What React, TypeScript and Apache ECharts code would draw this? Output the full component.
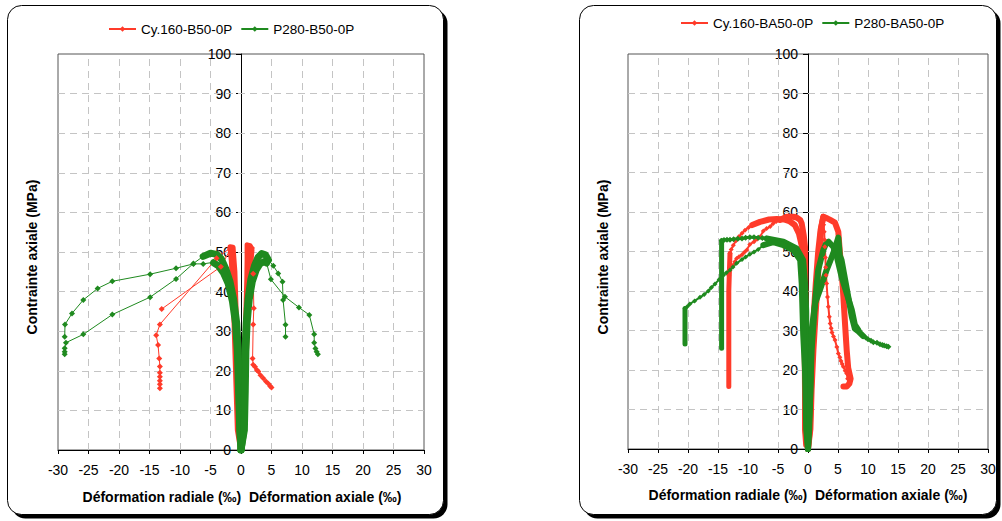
import React, { useEffect, useRef } from "react";
import * as echarts from "echarts";

type P = [number, number];

// ---------- tick labels / axes ----------
const xTicks = [-30, -25, -20, -15, -10, -5, 0, 5, 10, 15, 20, 25, 30];
const yTicks = [0, 10, 20, 30, 40, 50, 60, 70, 80, 90, 100];
const yTitle = "Contrainte axiale (MPa)";
const xTitle = "Déformation radiale (‰)  Déformation axiale (‰)";

// ---------- LEFT chart : B50 ----------
const lNameCy = "Cy.160-B50-0P";
const lNameP = "P280-B50-0P";

const lCyRadialBand: P[] = [[-0.1, 0.5], [-0.6, 5], [-0.8, 15], [-1.0, 25], [-1.2, 35], [-1.4, 43], [-1.6, 48], [-1.8, 51.3], [-1.3, 51.2], [-1.0, 45], [-0.8, 35], [-0.6, 25], [-0.5, 15], [-0.4, 5]];
const lCyAxialBand: P[] = [[0.1, 0.5], [0.35, 5], [0.5, 15], [0.65, 25], [0.8, 35], [0.95, 43], [1.0, 48], [1.0, 51.8], [1.5, 51.6], [1.8, 50.5], [1.5, 45], [1.2, 38], [1.0, 30], [0.8, 20], [0.6, 10], [0.45, 5]];
const lCyRadialTailA: P[] = [[-1.8, 50.5], [-3.3, 46.3], [-13.0, 35.6]];
const lCyRadialTailB: P[] = [[-1.8, 51], [-4.0, 48.4], [-13.3, 31.7], [-13.9, 29.0], [-13.6, 26.5], [-13.4, 23.1], [-13.3, 21.1], [-13.3, 19.5], [-13.3, 18.5], [-13.3, 17.5], [-13.3, 16.6], [-13.3, 15.6]];
const lCyAxialTail: P[] = [[1.8, 51], [2.0, 44.5], [2.1, 35.8], [2.0, 31.7], [1.9, 23.1], [2.0, 21.5], [2.3, 21.0], [2.6, 20.2], [2.85, 19.8], [3.2, 18.9], [3.65, 18.1], [4.1, 17.3], [4.5, 16.7], [4.8, 16.1], [5.0, 15.8]];

const lPDenseRad1: P[] = [[0, 0], [-0.15, 5], [-0.3, 15], [-0.45, 25], [-0.7, 32], [-1.2, 38], [-1.8, 42.5], [-2.5, 45.8], [-3.2, 48.2], [-4.0, 49.4], [-5.0, 49.7], [-6.2, 48.9]];
const lPTailRad1: P[] = [[-6.2, 48.9], [-7.8, 47.1], [-10.65, 43.2], [-14.9, 38.6], [-21.1, 34.2], [-25.85, 29.2], [-28.7, 27.1], [-28.9, 25.7], [-28.9, 24.8], [-28.9, 24.2]];
const lPDenseRad2: P[] = [[0, 0], [-0.2, 5], [-0.4, 15], [-0.6, 25], [-0.9, 32], [-1.4, 37.5], [-2.1, 42], [-2.9, 44.8], [-3.7, 46.5], [-4.5, 47.3]];
const lPTailRad2: P[] = [[-4.5, 47.4], [-6.2, 47.0], [-7.8, 47.0], [-10.65, 45.9], [-14.9, 44.4], [-21.1, 42.6], [-23.5, 40.8], [-25.85, 37.9], [-27.7, 34.5], [-28.85, 31.7], [-28.9, 28.6]];
const lPDenseAx1: P[] = [[0, 0], [0.45, 5], [0.55, 15], [0.65, 25], [0.85, 32], [1.15, 38], [1.6, 43], [2.2, 46.5], [2.8, 48.7], [3.4, 49.6], [4.0, 49.3], [4.5, 48.0]];
const lPTailAx1: P[] = [[4.5, 48.0], [5.3, 46.5], [6.1, 44.6], [6.8, 42.5], [6.9, 37.9], [7.3, 31.6], [7.3, 28.6]];
const lPDenseAx2: P[] = [[0, 0], [0.55, 5], [0.7, 15], [0.8, 25], [1.0, 32], [1.35, 38], [1.85, 42.5], [2.5, 45.5], [3.1, 47.0], [3.8, 47.6], [4.2, 47.2]];
const lPTailAx2: P[] = [[4.2, 47.2], [4.9, 43.1], [7.2, 38.7], [9.5, 36], [11.2, 34.1], [12.0, 29.2], [12.0, 27.1], [12.2, 25.6], [12.4, 24.8], [12.6, 24.2]];

// ---------- RIGHT chart : BA50 ----------
const rNameCy = "Cy.160-BA50-0P";
const rNameP = "P280-BA50-0P";

const rCyRadDense1: P[] = [[-0.3, 1], [-0.5, 5], [-0.5, 15], [-0.55, 25], [-0.6, 35], [-0.7, 43], [-0.8, 48], [-1.05, 51.5], [-1.5, 54.5], [-2.2, 56.7], [-3.0, 57.6], [-4.0, 58.1], [-5.2, 58.2], [-6.5, 58.1], [-8.0, 57.5], [-9.3, 56.7]];
const rCyRadTail1: P[] = [[-9.3, 56.7], [-9.9, 56.1], [-10.5, 55.4], [-11.0, 54.6], [-11.5, 53.8], [-12.0, 52.7], [-12.45, 51.6], [-12.8, 50.5], [-13.0, 49.5]];
const rCyRadDense2: P[] = [[-0.2, 1], [-0.4, 5], [-0.4, 15], [-0.4, 25], [-0.4, 35], [-0.45, 45], [-0.5, 51.2], [-0.7, 54], [-1.05, 57.1], [-1.3, 58.0], [-1.9, 58.6], [-2.45, 58.8], [-3.55, 58.8], [-4.1, 58.4], [-4.7, 58.0]];
const rCyRadTail2: P[] = [[-4.7, 58.0], [-5.3, 57.6], [-5.8, 57.1], [-6.3, 56.3], [-6.9, 55.8], [-7.45, 55.2], [-8.0, 53.7], [-8.5, 53.1], [-9.0, 52.5], [-9.7, 51.8], [-10.2, 50.4], [-10.6, 49.8], [-11.0, 49.2], [-11.5, 48.7], [-11.9, 48.2], [-12.2, 47.4], [-12.6, 46.4], [-13.0, 45.3], [-13.2, 44]];
const rCyRadColumn: P[] = [[-13.0, 49.5], [-13.1, 45], [-13.2, 40], [-13.2, 30], [-13.2, 20], [-13.2, 15.8]];
const rCyAxDense1: P[] = [[0, 0], [0.3, 5], [0.5, 15], [0.7, 25], [1.0, 35], [1.3, 42], [1.7, 50], [2.1, 55.5], [2.55, 58.8], [3.2, 58.4], [3.7, 58.0], [4.5, 57.3], [5.05, 55], [5.3, 50], [5.6, 45], [5.9, 38.5], [6.2, 31], [6.45, 25], [6.7, 20.5], [7.1, 17.8], [6.9, 16.6], [6.45, 15.8], [5.9, 15.8]];
const rCyAxDense2: P[] = [[0, 0], [0.4, 5], [0.6, 15], [0.9, 25], [1.3, 35], [1.6, 42], [1.9, 50], [2.2, 56], [2.55, 58.8]];
const rCyAxTail: P[] = [[2.55, 58.5], [2.6, 56.8], [2.7, 55], [2.75, 53], [2.8, 51.2], [2.9, 48.5], [2.95, 46], [3.0, 44], [3.1, 41.9], [3.25, 38.5], [3.4, 36], [3.55, 33.5], [3.7, 31.8], [3.85, 30.6], [4.0, 29.5], [4.25, 28.5], [4.5, 27.6], [4.8, 25.8], [5.05, 24.2], [5.3, 23.2], [5.5, 22.3], [5.7, 21.5], [5.9, 20.8], [6.2, 19.8], [6.45, 19.1], [6.6, 17.8]];

const rPRadDense1: P[] = [[0, 0], [-0.15, 5], [-0.2, 15], [-0.25, 25], [-0.3, 35], [-0.5, 42], [-0.8, 47.8], [-1.9, 50.8], [-4.1, 52.5], [-6.9, 53.3]];
const rPRadTail1: P[] = [[-6.9, 53.3], [-7.6, 53.4], [-8.3, 53.5], [-9.0, 53.6], [-9.7, 53.6], [-10.4, 53.5], [-11.0, 53.3], [-11.7, 53.2], [-12.4, 53.1], [-13.0, 53.0], [-13.5, 53.0], [-14.0, 52.9], [-14.4, 52.7]];
const rPRadColumn1: P[] = [[-14.4, 52.7], [-14.4, 45], [-14.4, 35], [-14.4, 25.5]];
const rPRadDense2: P[] = [[0, 0], [-0.3, 5], [-0.5, 20], [-0.8, 29], [-1.05, 41.9], [-1.3, 47.8], [-2.45, 50.4], [-4.1, 51.6], [-5.8, 52.4], [-7.45, 51.6]];
const rPRadTail2: P[] = [[-7.45, 51.6], [-8.3, 50.5], [-9.0, 49.9], [-9.7, 49.3], [-10.4, 48.6], [-11.0, 48.0], [-11.9, 47.0], [-12.5, 46.1], [-13.0, 45.3], [-13.6, 44.6], [-14.1, 44.0], [-14.8, 42.9], [-15.5, 41.8], [-16.1, 40.9], [-16.6, 40.0], [-17.3, 39.1], [-18.0, 38.4], [-18.9, 37.5], [-19.7, 36.7], [-20.1, 36.1], [-20.5, 35.6]];
const rPRadColumn2: P[] = [[-20.5, 35.6], [-20.5, 30], [-20.5, 26.6]];
const rPAxDense1: P[] = [[0, 0], [0.1, 5], [0.33, 12], [0.6, 25], [1.2, 37.7], [1.7, 45.3], [2.55, 50.4], [3.1, 52.3], [3.4, 52.5], [4.2, 51.2], [4.8, 48.7], [5.6, 43.6], [6.45, 39.4], [7.3, 35.2], [7.8, 31.5], [8.4, 30.1]];
const rPAxDense2: P[] = [[0, 0], [0.2, 5], [0.4, 15], [0.6, 30], [1.2, 37], [2.0, 40.3], [3.1, 45.3], [4.2, 49.5], [5.05, 53.5], [5.3, 49], [5.6, 47.8], [6.2, 42.8], [6.7, 38.6], [7.3, 33.5], [7.8, 30.5], [8.4, 29.8], [9.2, 28.6]];
const rPAxTail: P[] = [[9.2, 28.6], [9.6, 28.2], [10.0, 27.8], [10.5, 27.4], [10.9, 27.0], [11.5, 26.9], [12.0, 26.5], [12.4, 26.3], [12.7, 26.2], [13.1, 26.0], [13.4, 25.9]];

// ---------- styling ----------
const RED = "#FF3B2A";
const GREEN = "#1F8A1F";
const FONT = "Liberation Sans";

function sparse(name: string, color: string, data: P[], gi: number, w = 1, size = 6) {
  return {
    type: "line", name, data, xAxisIndex: gi, yAxisIndex: gi,
    symbol: "diamond", symbolSize: size, showSymbol: true,
    lineStyle: { width: w, color }, itemStyle: { color },
    emphasis: { disabled: true }, silent: true,
  };
}
function dense(name: string, color: string, data: P[], gi: number, w = 6) {
  return {
    type: "line", name, data, xAxisIndex: gi, yAxisIndex: gi,
    symbol: "none", showSymbol: false,
    lineStyle: { width: w, color, cap: "round", join: "round" }, itemStyle: { color },
    emphasis: { disabled: true }, silent: true,
  };
}
// dashed grid drawn from the tick arrays through the axes (interior ticks only)
function gridLines(gi: number) {
  const xs = xTicks.slice(1, -1).filter((v) => v !== 0).map((v) => ({ xAxis: v }));
  const ys = yTicks.slice(1, -1).map((v) => ({ yAxis: v }));
  return {
    type: "line", data: [], xAxisIndex: gi, yAxisIndex: gi, silent: true, z: 1,
    markLine: {
      silent: true, symbol: ["none", "none"], animation: false, z: 1,
      label: { show: false },
      emphasis: { disabled: true },
      lineStyle: { color: "#c4c4c4", type: [7, 5], width: 1 },
      data: [...xs, ...ys],
    },
  };
}

function xAxisFor(gi: number) {
  return {
    type: "value", gridIndex: gi, min: xTicks[0], max: xTicks[xTicks.length - 1], interval: 5,
    axisLine: { show: true, onZero: false, lineStyle: { color: "#000", width: 1 } },
    axisTick: { show: true, length: 4, lineStyle: { color: "#000" } },
    axisLabel: { color: "#000", fontSize: 14, fontFamily: FONT, margin: 13 },
    splitLine: { show: false },
  };
}
// y axis line + ticks sit on x = 0 (onZero); labels stay at the grid edge,
// so a negative margin of about half the grid width brings them next to the line
function yAxisFor(gi: number, halfWidth: number) {
  return {
    type: "value", gridIndex: gi, min: yTicks[0], max: yTicks[yTicks.length - 1], interval: 10,
    axisLine: { show: true, onZero: true, lineStyle: { color: "#000", width: 1 } },
    axisTick: { show: true, length: 5, lineStyle: { color: "#000" } },
    axisLabel: { color: "#000", fontSize: 14, fontFamily: FONT, margin: 10 - halfWidth },
    splitLine: { show: false },
  };
}

function frame(x: number, y: number, w: number, h: number) {
  return [
    { type: "rect", z: -100, silent: true, shape: { x: x + 4, y: y + 4, width: w, height: h, r: 14 }, style: { fill: "#000" } },
    { type: "rect", z: -99, silent: true, shape: { x, y, width: w, height: h, r: 14 }, style: { fill: "#fff", stroke: "#000", lineWidth: 1 } },
  ];
}
function titles(cx: number, cyX: number, yx: number, yy: number) {
  return [
    { type: "text", z: 100, silent: true, x: cx, y: cyX, style: { text: xTitle, font: `bold 14px "${FONT}"`, fill: "#000", textAlign: "center", textVerticalAlign: "middle" } },
    { type: "text", z: 100, silent: true, x: yx, y: yy, rotation: Math.PI / 2, style: { text: yTitle, font: `bold 14px "${FONT}"`, fill: "#000", textAlign: "center", textVerticalAlign: "middle" } },
  ];
}

export default function App() {
  const ref = useRef<HTMLDivElement>(null);
  useEffect(() => {
    if (!ref.current) return;
    const chart = echarts.init(ref.current, null, { renderer: "svg" });
    const legendBase = {
      itemWidth: 27, itemHeight: 7, itemGap: 8,
      textStyle: { color: "#000", fontSize: 13.5, fontFamily: FONT },
      selectedMode: false,
    };
    chart.setOption({
      animation: false,
      backgroundColor: "#fff",
      textStyle: { fontFamily: FONT },
      graphic: { elements: [...frame(7.5, 5.5, 436, 509), ...frame(579.5, 5.5, 417, 509), ...titles(242, 497, 32, 257), ...titles(808, 495, 603, 257)] },
      legend: [
        { ...legendBase, data: [lNameCy, lNameP], left: 103, top: 17 },
        { ...legendBase, data: [rNameCy, rNameP], left: 675, top: 11 },
      ],
      grid: [
        { left: 58, top: 54, width: 366, height: 396, show: true, borderColor: "#555", borderWidth: 1, backgroundColor: "transparent" },
        { left: 628, top: 54, width: 360, height: 395, show: true, borderColor: "#555", borderWidth: 1, backgroundColor: "transparent" },
      ],
      xAxis: [xAxisFor(0), xAxisFor(1)],
      yAxis: [yAxisFor(0, 183), yAxisFor(1, 180)],
      series: [
        gridLines(0),
        gridLines(1),
        // left, red
        sparse(lNameCy, RED, lCyRadialTailA, 0),
        sparse(lNameCy, RED, lCyRadialTailB, 0),
        sparse(lNameCy, RED, lCyAxialTail, 0),
        dense(lNameCy, RED, lCyRadialBand, 0, 5),
        dense(lNameCy, RED, lCyAxialBand, 0, 5),
        // left, green
        sparse(lNameP, GREEN, lPTailRad1, 0),
        sparse(lNameP, GREEN, lPTailRad2, 0),
        sparse(lNameP, GREEN, lPTailAx1, 0),
        sparse(lNameP, GREEN, lPTailAx2, 0),
        dense(lNameP, GREEN, lPDenseRad1, 0, 7),
        dense(lNameP, GREEN, lPDenseRad2, 0, 7),
        dense(lNameP, GREEN, lPDenseAx1, 0, 7),
        dense(lNameP, GREEN, lPDenseAx2, 0, 7),
        // right, red
        sparse(rNameCy, RED, rCyRadTail1, 1, 2, 5),
        sparse(rNameCy, RED, rCyRadTail2, 1, 2, 5),
        sparse(rNameCy, RED, rCyAxTail, 1, 2, 5),
        dense(rNameCy, RED, rCyRadDense1, 1),
        dense(rNameCy, RED, rCyRadDense2, 1),
        dense(rNameCy, RED, rCyRadColumn, 1, 5),
        dense(rNameCy, RED, rCyAxDense1, 1),
        dense(rNameCy, RED, rCyAxDense2, 1),
        // right, green
        sparse(rNameP, GREEN, rPRadTail1, 1, 3, 6),
        sparse(rNameP, GREEN, rPRadTail2, 1, 2, 5),
        sparse(rNameP, GREEN, rPAxTail, 1, 3, 6),
        dense(rNameP, GREEN, rPRadDense1, 1),
        dense(rNameP, GREEN, rPRadColumn1, 1, 5),
        dense(rNameP, GREEN, rPRadDense2, 1),
        dense(rNameP, GREEN, rPRadColumn2, 1, 5),
        dense(rNameP, GREEN, rPAxDense1, 1),
        dense(rNameP, GREEN, rPAxDense2, 1),
      ],
    });
    return () => chart.dispose();
  }, []);
  return <div ref={ref} style={{ position: "absolute", left: 0, top: 0, width: 1002, height: 521, background: "#fff" }} />;
}
